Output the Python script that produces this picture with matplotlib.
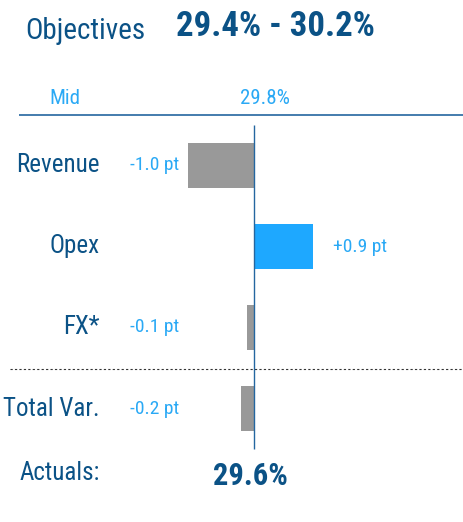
import matplotlib
matplotlib.use("Agg")
import matplotlib.pyplot as plt
from matplotlib import font_manager

# ---- data ----
categories = ["Revenue", "Opex", "FX*", "Total Var."]
deltas = [-1.0, 0.9, -0.1, -0.2]
objective_low = 29.4
objective_high = 30.2
mid_value = 29.8
actual_value = 29.6

# ---- style ----
available = {f.name for f in font_manager.fontManager.ttflist}
narrow = None
for cand in ["Liberation Sans Narrow", "Arial Narrow", "Roboto Condensed", "Open Sans Condensed"]:
    if cand in available:
        narrow = cand
        break
if narrow is None:
    narrow = "Liberation Sans"
plt.rcParams["font.family"] = [narrow, "DejaVu Sans"]

DARK = "#0B5286"
LIGHT = "#2AA9F5"
BAR_BLUE = "#1EA8FF"
GRAY = "#999999"
LINE = "#2466A0"

W, H = 464, 522
fig = plt.figure(figsize=(W / 100, H / 100), dpi=100)
ax = fig.add_axes([0, 0, 1, 1])
ax.axis("off")

px_per_pt = 66.0
x0 = 254.0
y0 = 165.5
step = 81.0
ax.set_xlim(-x0 / px_per_pt, (W - x0) / px_per_pt)
ax.set_ylim((H - y0) / step, -y0 / step)

def dx(px):
    return (px - x0) / px_per_pt

def dy(py):
    return (py - y0) / step

ypos = list(range(len(categories)))
colors = [BAR_BLUE if v > 0 else GRAY for v in deltas]
ax.barh(ypos, deltas, height=0.55, left=0, color=colors, edgecolor="none", zorder=2)

# vertical axis line
ax.vlines(0, -0.5, len(categories) - 0.5, color=LINE, lw=1.0, zorder=3)
# Mid underline
ax.hlines(dy(115), dx(19), dx(W), color=LINE, lw=1.2)
# dotted separator
ax.hlines(dy(369), dx(10), dx(W), color="#333333", lw=0.8, linestyles=(0, (2, 2)))

# category labels and values
for i, (c, v) in enumerate(zip(categories, deltas)):
    ax.text(dx(100), i, c, ha="right", va="center", fontsize=18, color=DARK)
    lbl = f"{v:+.1f} pt"
    if v < 0:
        ax.text(dx(130), i, lbl, ha="left", va="center", fontsize=14, color=LIGHT)
    else:
        ax.text(v + 20 / px_per_pt, i, lbl, ha="left", va="center", fontsize=14, color=LIGHT)

# header
ax.text(dx(25), dy(31), "Objectives", ha="left", va="center", fontsize=21, color=DARK)
ax.text(dx(176), dy(26), f"{objective_low:.1f}% - {objective_high:.1f}%", ha="left",
        va="center", fontsize=25, fontweight="bold", color=DARK)

# mid row
ax.text(dx(64.5), dy(98), "Mid", ha="center", va="center", fontsize=15, color=LIGHT)
ax.text(dx(265), dy(98), f"{mid_value:.1f}%", ha="center", va="center", fontsize=15, color=LIGHT)

# actuals row
ax.text(dx(100), dy(473), "Actuals:", ha="right", va="center", fontsize=18, color=DARK)
ax.text(dx(250.5), dy(476), f"{actual_value:.1f}%", ha="center", va="center",
        fontsize=22, fontweight="bold", color=DARK)

fig.savefig("out.png", dpi=100)
